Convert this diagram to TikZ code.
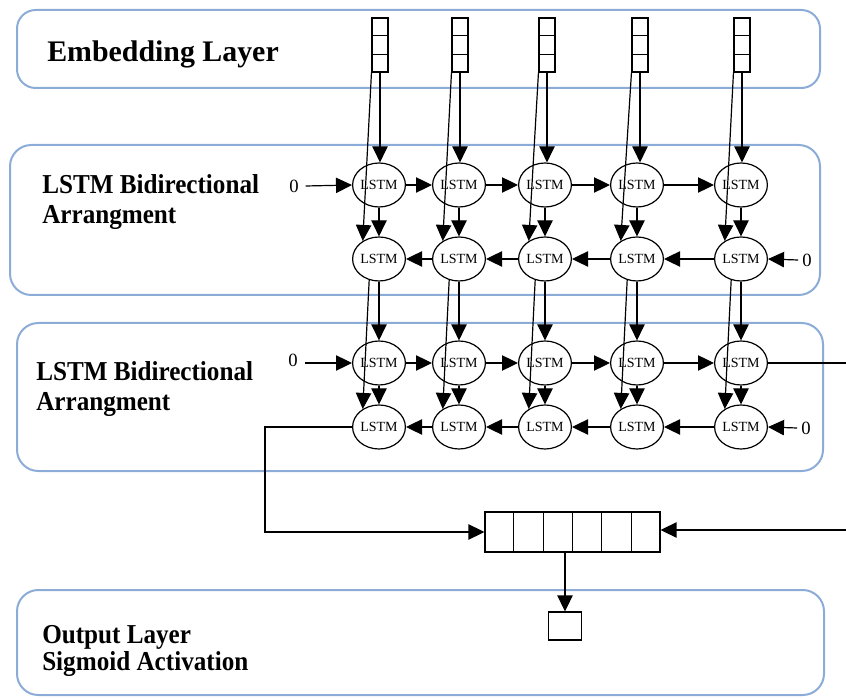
\documentclass[tikz,border=0pt]{standalone}
\usepackage{fontspec}
\setmainfont{Liberation Serif}
\newfontfamily\headfont[FakeStretch=0.92]{Liberation Serif}
\usetikzlibrary{arrows.meta,calc,shapes.geometric}
\definecolor{layerblue}{RGB}{140,172,216}
\begin{document}
\begin{tikzpicture}[x=0.75pt,y=-0.75pt,
  layerbox/.style={draw=layerblue,line width=1.5pt,rounded corners=14pt},
  title/.style={anchor=base west,inner sep=0,font=\headfont\bfseries\fontsize{20.5}{24}\selectfont},
  bigtitle/.style={anchor=base west,inner sep=0,font=\bfseries\fontsize{22.4}{26}\selectfont},
  lstm/.style={draw,ellipse,line width=0.9pt,minimum width=39pt,minimum height=33pt,
    inner sep=0,font=\fontsize{10.5}{11}\selectfont},
  embbox/.style={draw,line width=0.8pt,minimum width=12pt,minimum height=40.5pt,inner sep=0},
  cellbox/.style={draw,line width=0.8pt,inner sep=0},
  conn/.style={draw,line width=0.9pt,-{Triangle[length=12pt,width=11.5pt]}},
  zero/.style={inner sep=0,font=\fontsize{14}{14}\selectfont}
]
\useasboundingbox (0,0) rectangle (846,698);
\clip (0,0) rectangle (846,698);

% layer frames
\draw[layerbox] (17,10) rectangle (820,88);
\draw[layerbox,rounded corners=16pt] (10,145) rectangle (820,295);
\draw[layerbox,rounded corners=16pt] (17,323) rectangle (823,471);
\draw[layerbox,rounded corners=16pt] (17,590) rectangle (824,695);

% layer titles
\node[bigtitle] (tEmb) at (47,62) {Embedding Layer};
\node[title] (tA1) at (42,194) {LSTM Bidirectional};
\node[title] (tA2) at (42,224) {Arrangment};
\node[title] (tB1) at (36,381) {LSTM Bidirectional};
\node[title] (tB2) at (36,411) {Arrangment};
\node[title] (tC1) at (42,643) {Output Layer};
\node[title] (tC2) at (42,670) {Sigmoid Activation};

% embedding vectors
\foreach \i/\x in {1/380,2/460,3/547,4/640,5/742} {
  \node[embbox] (e\i) at (\x,45) {};
  \draw[line width=0.8pt] ($(e\i.north west)!1/3!(e\i.south west)$) -- ($(e\i.north east)!1/3!(e\i.south east)$);
  \draw[line width=0.8pt] ($(e\i.north west)!2/3!(e\i.south west)$) -- ($(e\i.north east)!2/3!(e\i.south east)$);
}

% LSTM cells: forward and backward rows of both layers
\foreach \i/\x in {1/379,2/459,3/545,4/637,5/741} {
  \node[lstm] (fa\i) at (\x,185) {LSTM};
  \node[lstm] (ba\i) at (\x,259) {LSTM};
  \node[lstm] (fb\i) at (\x,363) {LSTM};
  \node[lstm] (bb\i) at (\x,427) {LSTM};
}

% vertical connections
\foreach \i in {1,...,5} {
  \draw[conn] (e\i.south) -- (e\i.south |- fa\i.north);
  \draw[conn] (e\i.south west) -- (ba\i.132);
  \draw[conn] (fa\i.south) -- (ba\i.north);
  \draw[conn] (ba\i.south) -- (fb\i.north);
  \draw[conn] (ba\i.245) -- (bb\i.132);
  \draw[conn] (fb\i.south) -- (bb\i.north);
}

% recurrent connections
\foreach \i/\j in {1/2,2/3,3/4,4/5} {
  \draw[conn] (fa\i.east) -- (fa\j.west);
  \draw[conn] (ba\j.west) -- (ba\i.east);
  \draw[conn] (fb\i.east) -- (fb\j.west);
  \draw[conn] (bb\j.west) -- (bb\i.east);
}

% initial states
\node[zero] (za) at (294,186) {0};
\node[zero] (zb) at (807,260) {0};
\node[zero] (zc) at (293,360) {0};
\node[zero] (zd) at (806,428) {0};
\draw[conn] ([xshift=5pt]za.east) -- (fa1.west);
\draw[conn] ([xshift=-3pt]zb.west) -- (ba5.east);
\draw[conn] ([xshift=5pt]zc.east |- fb1.west) -- (fb1.west);
\draw[conn] ([xshift=-3pt]zd.west) -- (bb5.east);

% concatenation vector
\node[cellbox,minimum width=131.25pt,minimum height=30pt] (cat) at (572.5,532) {};
\foreach \k in {1,...,5} {
  \draw[line width=0.8pt] ($(cat.north west)!\k/6!(cat.north east)$) -- ($(cat.south west)!\k/6!(cat.south east)$);
}

% output unit
\node[cellbox,minimum width=25pt,minimum height=21pt] (out) at (565,626) {};

% final states into the concatenation
\coordinate (bendL) at (265,427);
\coordinate (bendR) at (880,363);
\draw[conn] (bb1.west) -- (bendL) |- (cat.west);
\draw[conn] (fb5.east) -- (bendR) |- ([yshift=1.5pt]cat.east);
\draw[conn] (out.north |- cat.south) -- (out.north);
\end{tikzpicture}
\end{document}
